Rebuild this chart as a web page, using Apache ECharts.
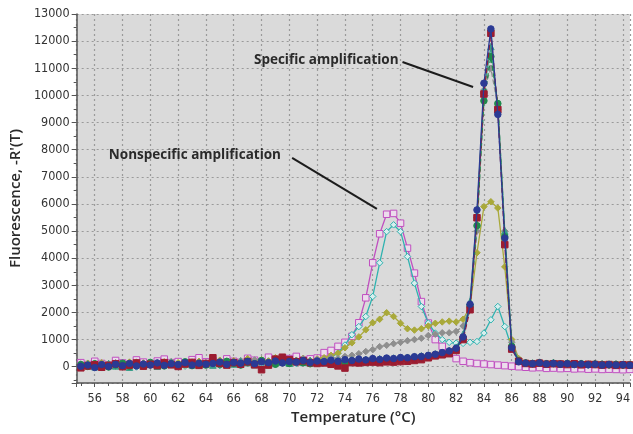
<!DOCTYPE html>
<html>
<head>
<meta charset="utf-8">
<script src="https://cdn.jsdelivr.net/npm/echarts@6/dist/echarts.min.js"></script>
<style>
html,body{margin:0;padding:0;background:#fff;}
#c{width:633px;height:434px;}
</style>
</head>
<body>
<div id="c"></div>
<script>
// Temperature (°C) sample points
var temps = [55,55.5,56,56.5,57,57.5,58,58.5,59,59.5,60,60.5,61,61.5,62,62.5,63,63.5,64,64.5,65,65.5,66,66.5,67,67.5,68,68.5,69,69.5,70,70.5,71,71.5,72,72.5,73,73.5,74,74.5,75,75.5,76,76.5,77,77.5,78,78.5,79,79.5,80,80.5,81,81.5,82,82.5,83,83.5,84,84.5,85,85.5,86,86.5,87,87.5,88,88.5,89,89.5,90,90.5,91,91.5,92,92.5,93,93.5,94,94.5];

// Melt curves, -R'(T)
var magenta = [150,80,200,120,60,230,140,90,250,170,110,210,280,150,190,120,260,330,180,
  220,140,290,200,160,310,240,180,350,260,210,300,380,250,290,320,
  520,600,750,900,1120,1620,2540,3830,4900,5620,5650,5290,4370,3450,2400,1610,1000,750,500,300,
  200,150,120,100,80,60,40,20,0,
  -20,-40,-30,-60,-50,-70,-60,-80,-70,-90,-80,-100,-90,-100,-110,-100];

var cyan = [0,90,40,-40,60,110,20,80,-10,130,70,30,100,160,60,20,120,80,140,
  90,40,170,120,60,190,140,100,210,80,160,230,120,190,150,240,
  250,350,500,800,1180,1480,1850,2590,3830,4980,5230,4980,4060,3080,2220,1610,1240,1000,900,870,
  860,900,930,1240,1730,2220,1480,700,200,
  120,100,110,90,100,80,90,70,80,60,70,60,50,60,40,50];

var olive = [60,130,40,150,90,20,120,170,70,140,50,110,180,90,150,60,130,200,100,
  160,240,130,220,180,300,150,260,210,330,190,270,240,310,230,290,
  330,420,500,700,880,1100,1360,1620,1750,1990,1850,1600,1400,1350,1400,1500,1600,1650,1680,1650,
  1750,2200,4200,5900,6080,5850,3680,1000,300,
  150,120,130,100,120,90,110,80,100,90,70,90,60,80,70,60];

var gray = [100,50,130,70,20,150,90,60,170,110,40,140,100,190,80,130,170,60,150,
  110,200,160,90,220,140,250,180,120,210,260,170,230,300,200,270,
  250,330,300,380,420,480,560,630,740,790,850,900,960,1000,1050,1150,1200,1250,1250,1300,
  1500,2300,5000,10200,11000,9600,5000,900,250,
  160,140,170,130,150,120,140,110,130,100,120,110,90,100,80,90];

var teal = [40,100,0,70,120,30,80,-20,110,60,130,20,90,160,50,120,70,140,100,
  60,140,180,100,210,150,80,190,120,240,170,130,200,160,230,180,
  200,150,230,190,250,220,270,240,300,280,320,310,350,370,400,430,470,530,600,720,
  1200,2400,5600,10200,11800,9600,5000,800,230,
  150,130,160,120,140,110,130,100,120,90,110,80,100,70,90,70];

var green = [80,10,110,50,-10,70,130,20,90,40,160,80,30,120,70,180,40,110,60,
  150,90,200,130,60,170,110,230,140,90,180,120,200,150,110,190,
  160,200,180,170,210,190,230,260,240,280,270,300,310,340,360,390,430,480,540,640,
  1050,2250,5200,9800,11430,9700,4790,750,220,
  140,120,150,110,130,100,120,90,110,80,100,90,70,90,60,80];

var red = [-40,30,70,-20,50,110,0,60,140,20,90,40,150,70,10,100,160,50,120,
  330,120,60,150,90,180,70,-110,60,280,350,260,180,220,150,120,
  140,90,30,-50,150,140,160,170,150,180,170,190,200,230,260,330,400,440,480,600,
  1000,2100,5490,10050,12290,9470,4500,650,200,
  120,100,130,90,110,100,80,110,70,90,80,60,80,50,70,60];

var blue = [20,60,-30,80,10,90,40,120,30,100,60,140,50,110,80,150,60,130,90,
  120,170,90,160,130,200,110,180,150,210,140,190,170,230,160,210,
  190,240,200,260,230,280,250,300,270,320,300,340,330,370,380,420,460,520,580,680,
  1100,2300,5780,10450,12450,9300,4740,700,180,
  130,110,140,100,120,90,110,80,100,70,90,60,80,60,70,50];

var xTickLabels = [56,58,60,62,64,66,68,70,72,74,76,78,80,82,84,86,88,90,92,94];
var yTickLabels = [0,1000,2000,3000,4000,5000,6000,7000,8000,9000,10000,11000,12000,13000];

// Annotations (data coordinates)
var annotations = [
  {text:'Nonspecific amplification', at:[69.4,7808], from:[70.2,7700], to:[76.3,5820]},
  {text:'Specific amplification', at:[77.86,11307], from:[78.14,11230], to:[83.22,10310]}
];

function pairs(arr){ return arr.map(function(v,i){ return [temps[i], v]; }); }

var tickFont = "'Liberation Sans Narrow','DejaVu Sans Condensed',sans-serif";

function mkSeries(name, data, color, symbol, fill, z, dashed){
  return {
    name: name, type: 'line', data: pairs(data), z: z,
    symbol: symbol, symbolSize: 6.5, showSymbol: true,
    lineStyle: {color: color, width: 1.3, type: dashed ? 'dashed' : 'solid'},
    itemStyle: {color: fill, borderColor: color, borderWidth: 1},
    animation: false, emphasis: {disabled: true}
  };
}

var series = [
  mkSeries('magenta', magenta, '#c04fc0', 'rect', '#ecdcec', 2),
  mkSeries('cyan', cyan, '#2fb3b0', 'diamond', '#d8eeee', 3),
  mkSeries('olive', olive, '#a9a93a', 'diamond', '#a9a93a', 4),
  mkSeries('gray', gray, '#8e8e8e', 'diamond', '#8e8e8e', 5, true),
  mkSeries('teal', teal, '#3a9e8a', 'triangle', '#3a9e8a', 6),
  mkSeries('green', green, '#1f8a4c', 'circle', '#1f8a4c', 7, true),
  mkSeries('red', red, '#9b1c30', 'rect', '#9b1c30', 8, true),
  mkSeries('blue', blue, '#2b3a94', 'circle', '#2b3a94', 9)
];

// arrows + labels on a helper series
series.push({
  type: 'line', data: [], z: 20, silent: true,
  markLine: {
    silent: true, animation: false,
    symbol: ['none','arrow'], symbolSize: [0, 12],
    label: {show: false},
    lineStyle: {color: '#1c1c1c', width: 2, type: 'solid'},
    data: annotations.map(function(a){ return [{coord: a.from}, {coord: a.to}]; })
  },
  markPoint: {
    silent: true, animation: false, symbol: 'circle', symbolSize: 0,
    label: {show: true, position: 'left', distance: 0, color: '#2a2a2a',
      fontFamily: "'Open Sans',sans-serif", fontWeight: 'bold', fontSize: 13.5},
    data: annotations.map(function(a){ return {coord: a.at, label: {formatter: a.text}}; })
  }
});

var chart = echarts.init(document.getElementById('c'), null, {renderer: 'canvas'});
chart.setOption({
  animation: false,
  backgroundColor: '#ffffff',
  grid: {left: 70, right: 0, top: 14, bottom: 51, show: true, backgroundColor: '#dadada', borderWidth: 0},
  xAxis: {
    type: 'value', min: 54.7, max: 94.5, minInterval: 2, maxInterval: 2, splitNumber: 20,
    name: 'Temperature (°C)', nameLocation: 'middle', nameGap: 26,
    nameTextStyle: {fontFamily: "'Open Sans',sans-serif", fontWeight: 600, fontSize: 15, color: '#2a2a2a'},
    axisLine: {onZero: false, lineStyle: {color: '#555', width: 1.5}},
    axisTick: {show: true, length: 4, lineStyle: {color: '#555'}},
    minorTick: {show: true, splitNumber: 2, length: 3, lineStyle: {color: '#555'}},
    axisLabel: {color: '#333', fontSize: 12.5, fontFamily: tickFont, margin: 9,
      showMinLabel: false, showMaxLabel: false,
      formatter: function(v){ return xTickLabels.indexOf(Math.round(v*1000)/1000) >= 0 ? String(v) : ''; }},
    splitLine: {show: true, lineStyle: {color: '#9a9a9a', type: [2,3], width: 1.2}}
  },
  yAxis: {
    type: 'value', min: -600, max: 13000, minInterval: 1000, maxInterval: 1000, splitNumber: 14,
    name: "Fluorescence, -R'(T)", nameLocation: 'middle', nameGap: 47,
    nameTextStyle: {fontFamily: "'Open Sans',sans-serif", fontWeight: 600, fontSize: 15, color: '#2a2a2a'},
    axisLine: {show: true, onZero: false, lineStyle: {color: '#555', width: 1.5}},
    axisTick: {show: true, length: 5, lineStyle: {color: '#555'}},
    minorTick: {show: true, splitNumber: 2, length: 3, lineStyle: {color: '#555'}},
    axisLabel: {color: '#333', fontSize: 12.5, fontFamily: tickFont, margin: 7,
      showMinLabel: false,
      formatter: function(v){ return yTickLabels.indexOf(v) >= 0 ? String(v) : ''; }},
    splitLine: {show: true, lineStyle: {color: '#9a9a9a', type: [2,3], width: 1.2}}
  },
  series: series
});
</script>
</body>
</html>
